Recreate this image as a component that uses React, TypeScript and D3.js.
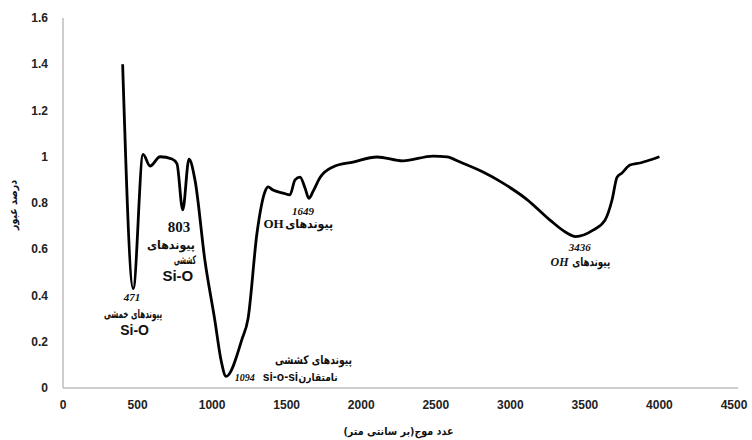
import React from 'react';
import * as d3 from 'd3';

// wavenumber (cm-1) and transmittance
const wavenumbers = [
  400, 471, 537, 584, 651, 731, 764, 803, 845, 885, 952, 1019, 1060, 1094, 1200,
  1241, 1301, 1355, 1375, 1408, 1476, 1522, 1556, 1590, 1623, 1649, 1677, 1724, 1811,
  1945, 2106, 2280, 2481, 2575, 2663, 2817, 2951, 3112, 3266, 3380, 3436, 3555, 3635,
  3682, 3716, 3749, 3803, 3870, 3937, 4000,
];
const transmittance = [
  1.4, 0.43, 1.01, 0.96, 1.0, 0.99, 0.97, 0.77, 0.99, 0.9, 0.55, 0.29, 0.12, 0.05, 0.21,
  0.3, 0.67, 0.85, 0.87, 0.856, 0.843, 0.835, 0.9, 0.912, 0.865, 0.82, 0.85, 0.91, 0.956,
  0.977, 0.999, 0.982, 1.003, 0.999, 0.977, 0.934, 0.886, 0.815, 0.726, 0.67, 0.655, 0.683, 0.726,
  0.813, 0.912, 0.93, 0.964, 0.973, 0.986, 1.0,
];
const xTicks = [0, 500, 1000, 1500, 2000, 2500, 3000, 3500, 4000, 4500];
const yTicks = [0, 0.2, 0.4, 0.6, 0.8, 1, 1.2, 1.4, 1.6];

const yTitle = 'درصد عبور';
const xTitle = 'عدد موج(بر سانتی متر)';

const W = 752;
const H = 440;
const margin = { top: 18, right: 18, bottom: 52, left: 63 };

const fa = '"DejaVu Sans", sans-serif';
const serif = '"Liberation Serif", "DejaVu Serif", serif';
const sans = '"Liberation Sans", Arial, sans-serif';

export default function App() {
  const x = d3.scaleLinear().domain([0, 4500]).range([margin.left, W - margin.right]);
  const y = d3.scaleLinear().domain([0, 1.6]).range([H - margin.bottom, margin.top]);

  const pts: [number, number][] = wavenumbers.map((w, i) => [w, transmittance[i]]);
  const line = d3
    .line<[number, number]>()
    .x((d) => x(d[0]))
    .y((d) => y(d[1]))
    .curve(d3.curveMonotoneX);

  const y0 = y(0);
  const persian = { fontFamily: fa, fontWeight: 700, fontSize: 12, fill: '#111', lengthAdjust: 'spacingAndGlyphs' as const };
  const num = { fontFamily: serif, fontWeight: 700, fontStyle: 'italic', fill: '#111' };
  const si = { fontFamily: sans, fontWeight: 700, fill: '#111' };

  return (
    <svg width={W} height={H} style={{ position: 'absolute', left: 0, top: 0, background: '#fff' }}>
      {/* axes */}
      <line x1={x(0)} x2={x(4500) + 4} y1={y0} y2={y0} stroke="#bdbdbd" strokeWidth={1.5} />
      <line x1={x(0)} x2={x(0)} y1={y(1.6)} y2={y0} stroke="#bdbdbd" strokeWidth={1.5} />

      {yTicks.map((t) => (
        <text key={t} x={x(0) - 15} y={y(t)} dy="0.35em" textAnchor="end"
          fontFamily={sans} fontWeight={700} fontSize={12} fill="#222">
          {d3.format('~g')(t)}
        </text>
      ))}
      {xTicks.map((t) => (
        <text key={t} x={x(t)} y={y0 + 21} textAnchor="middle"
          fontFamily={sans} fontWeight={700} fontSize={12} fill="#222">
          {t}
        </text>
      ))}

      <text transform={`translate(17,${y(0.8) + 2}) rotate(-90)`} textAnchor="middle"
        {...persian} fontSize={11} textLength={50}>{yTitle}</text>
      <text x={x(2250)} y={H - 5} textAnchor="middle" {...persian} fontSize={11} textLength={110}>{xTitle}</text>

      <path d={line(pts) ?? ''} fill="none" stroke="#000" strokeWidth={2.8} strokeLinejoin="round" />

      {/* 471 */}
      <text x={x(463)} y={y(0.394)} dy="0.35em" textAnchor="middle" {...num} fontSize={11}>471</text>
      <text x={x(470)} y={y(0.32)} dy="0.35em" textAnchor="middle" {...persian} textLength={58}>پیوندهای خمشی</text>
      <text x={x(480)} y={y(0.25)} dy="0.35em" textAnchor="middle" {...si} fontSize={14}>Si-O</text>

      {/* 803 */}
      <text x={x(778)} y={y(0.696)} dy="0.35em" textAnchor="middle" {...num} fontStyle="normal" fontSize={15}>803</text>
      <text x={x(724)} y={y(0.621)} dy="0.35em" textAnchor="middle" {...persian} textLength={48}>پیوندهای</text>
      <text x={x(818)} y={y(0.553)} dy="0.35em" textAnchor="middle" {...persian} textLength={22}>کششی</text>
      <text x={x(770)} y={y(0.485)} dy="0.35em" textAnchor="middle" {...si} fontSize={15}>Si-O</text>

      {/* 1094 */}
      <text x={x(1680)} y={y(0.121)} dy="0.35em" textAnchor="middle" {...persian} textLength={77}>پیوندهای  کششی</text>
      <text x={x(1152)} y={y(0.047)} dy="0.35em" textAnchor="start" {...num} fontSize={10}>1094</text>
      <text x={x(1340)} y={y(0.047)} dy="0.35em" textAnchor="start" {...si} fontSize={12}>si-o-si</text>
      <text x={x(1580)} y={y(0.047)} dy="0.35em" textAnchor="start" {...persian} fontSize={11} textLength={39}>نامتقارن</text>

      {/* 1649 */}
      <text x={x(1610)} y={y(0.765)} dy="0.35em" textAnchor="middle" {...num} fontSize={11}>1649</text>
      <text x={x(1480)} y={y(0.71)} dy="0.35em" textAnchor="end" fontFamily={serif} fontWeight={700} fontSize={13} fill="#111">OH</text>
      <text x={x(1490)} y={y(0.71)} dy="0.35em" textAnchor="start" {...persian} textLength={48}>پیوندهای</text>

      {/* 3436 */}
      <text x={x(3465)} y={y(0.61)} dy="0.35em" textAnchor="middle" {...num} fontSize={11}>3436</text>
      <text x={x(3390)} y={y(0.545)} dy="0.35em" textAnchor="end" {...num} fontSize={12}>OH</text>
      <text x={x(3415)} y={y(0.545)} dy="0.35em" textAnchor="start" {...persian} textLength={38}>پیوندهای</text>
    </svg>
  );
}
